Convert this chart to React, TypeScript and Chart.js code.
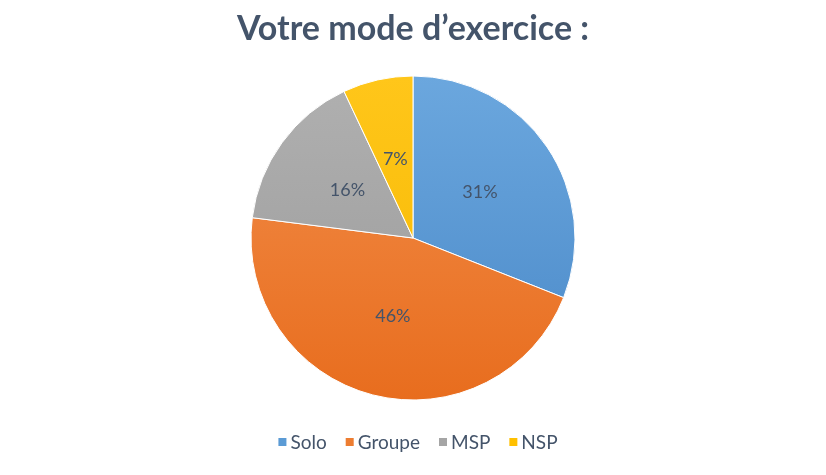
import React, { useEffect, useRef } from "react";
import { Chart, registerables } from "chart.js";

Chart.register(...registerables);

const categories = ["Solo", "Groupe", "MSP", "NSP"];
const values = [31, 46, 16, 7];
const colorsTop = ["#6ba7de", "#f28e4b", "#b0b0b0", "#ffc61a"];
const colorsBottom = ["#4a89c8", "#e86d1e", "#9a9a9a", "#f5b800"];
const legendColors = ["#5b9bd5", "#ed7d31", "#a5a5a5", "#ffc000"];
const titleText = "Votre mode d\u2019exercice :";

const labelPlugin = {
  id: "sliceLabels",
  afterDatasetsDraw(chart: any) {
    const ctx = chart.ctx;
    const meta = chart.getDatasetMeta(0);
    ctx.save();
    ctx.font = "18px Lato";
    ctx.fillStyle = "#44546a";
    ctx.textAlign = "center";
    ctx.textBaseline = "middle";
    meta.data.forEach((arc: any, i: number) => {
      const p = arc.getCenterPoint();
      ctx.fillText(values[i] + "%", p.x, p.y);
    });
    ctx.restore();
  },
};

const legendPlugin = {
  id: "customLegend",
  afterDraw(chart: any) {
    const ctx = chart.ctx;
    const box = 8;
    const boxGap = 4;
    const itemGap = 19;
    const cx = 418;
    const cy = 443;
    ctx.save();
    ctx.font = "19px Lato";
    ctx.textBaseline = "middle";
    ctx.textAlign = "left";
    const widths = categories.map((c) => ctx.measureText(c).width);
    const total =
      widths.reduce((a, w) => a + box + boxGap + w, 0) + itemGap * (categories.length - 1);
    let x = cx - total / 2;
    categories.forEach((c, i) => {
      ctx.fillStyle = legendColors[i];
      ctx.fillRect(x, cy - box / 2 - 1, box, box);
      x += box + boxGap;
      ctx.fillStyle = "#44546a";
      ctx.fillText(c, x, cy);
      x += widths[i] + itemGap;
    });
    ctx.restore();
  },
};

export default function App() {
  const ref = useRef<HTMLCanvasElement | null>(null);
  useEffect(() => {
    document.body.style.margin = "0";
    document.body.style.background = "#ffffff";
    const chart = new Chart(ref.current!, {
      type: "pie",
      data: {
        labels: categories,
        datasets: [
          {
            data: values,
            radius: 162,
            backgroundColor: (c: any) => {
              const area = c.chart.chartArea;
              if (!area) return legendColors[c.dataIndex];
              const g = c.chart.ctx.createLinearGradient(0, 76, 0, 400);
              g.addColorStop(0, colorsTop[c.dataIndex]);
              g.addColorStop(1, colorsBottom[c.dataIndex]);
              return g;
            },
            borderColor: "#ffffff",
            borderWidth: 1,
          },
        ],
      },
      options: {
        animation: false,
        responsive: false,
        maintainAspectRatio: false,
        layout: { padding: { top: 9, bottom: 62.6, left: 0, right: 0 } },
        plugins: {
          title: {
            display: true,
            text: titleText,
            color: "#44546a",
            font: { family: "Lato", size: 34, weight: "bold" },
            padding: { top: 0, bottom: 13.8 },
          },
          legend: { display: false },
          tooltip: { enabled: false },
        },
      },
      plugins: [labelPlugin, legendPlugin],
    });
    return () => chart.destroy();
  }, []);
  return (
    <div style={{ position: "absolute", left: 0, top: 0, width: 826, height: 475, background: "#fff" }}>
      <canvas ref={ref} width={826} height={475} style={{ width: 826, height: 475 }} />
    </div>
  );
}
